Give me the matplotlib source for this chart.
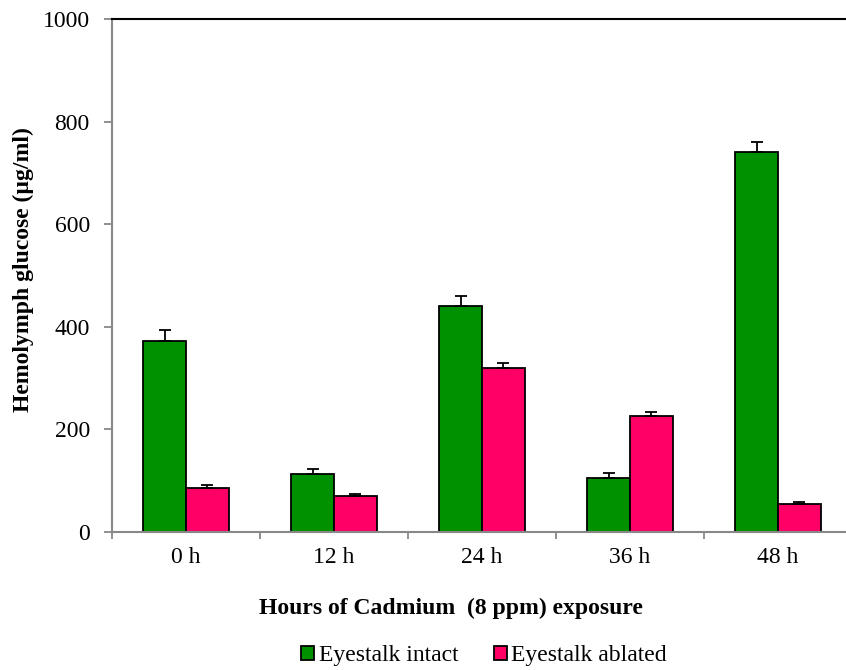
import matplotlib
matplotlib.use("Agg")
import matplotlib.pyplot as plt
import numpy as np
from matplotlib.patches import Patch

categories = ["0 h", "12 h", "24 h", "36 h", "48 h"]
intact = [373, 113, 441, 106, 741]
intact_err = [20, 10, 20, 9, 19]
ablated = [85, 71, 319, 226, 55]
ablated_err = [6, 4, 10, 8, 4]
yticks = [0, 200, 400, 600, 800, 1000]

plt.rcParams['font.family'] = ['Liberation Serif', 'DejaVu Serif']

fig = plt.figure(figsize=(8.46, 6.70), dpi=100)
ax = fig.add_axes([112/846, (670-532)/670, (852-112)/846, (532-19)/670])

green = "#009100"
pink = "#FF0066"
x = np.arange(len(categories))
w = 0.288
ax.bar(x - w/2, intact, w, color=green, edgecolor="black", linewidth=1.3, zorder=2)
ax.bar(x + w/2, ablated, w, color=pink, edgecolor="black", linewidth=1.3, zorder=2)
ax.errorbar(x - w/2, intact, yerr=[np.zeros(len(intact)), intact_err], fmt="none",
            ecolor="black", elinewidth=1.3, capsize=4.5, capthick=1.3, zorder=3)
ax.errorbar(x + w/2, ablated, yerr=[np.zeros(len(ablated)), ablated_err], fmt="none",
            ecolor="black", elinewidth=1.3, capsize=4.5, capthick=1.3, zorder=3)

ax.set_xlim(-0.5, len(categories) - 0.5)
ax.set_ylim(0, 1000)
ax.set_yticks(yticks)
ax.set_yticklabels([str(v) for v in yticks], fontsize=17)
ax.set_xticks(np.arange(-0.5, len(categories), 1.0))
ax.set_xticklabels([])
ax.set_xticks(x, minor=True)
ax.set_xticklabels(categories, minor=True, fontsize=17)
ax.tick_params(axis="x", which="minor", length=0, pad=11)
ax.tick_params(axis="x", which="major", length=5, color="#888888", width=1.3)
ax.tick_params(axis="y", length=6, color="#888888", width=1.3, pad=10)

for s in ["left", "bottom"]:
    ax.spines[s].set_color("#888888")
    ax.spines[s].set_linewidth(1.5)
ax.spines["top"].set_color("black")
ax.spines["top"].set_linewidth(1.5)
ax.spines["right"].set_visible(False)

fig.text(23.5/846, 1 - 270/670, "Hemolymph glucose (µg/ml)", rotation=90,
         fontsize=17, fontweight="bold", ha="center", va="center")
fig.text(450.5/846, 1 - 614/670, "Hours of Cadmium  (8 ppm) exposure",
         fontsize=17, fontweight="bold", ha="center", va="baseline")

handles = [Patch(facecolor=green, edgecolor="black", linewidth=1.3),
           Patch(facecolor=pink, edgecolor="black", linewidth=1.3)]
fig.legend(handles, ["Eyestalk intact", "Eyestalk ablated"], loc="center",
           bbox_to_anchor=(484/846, 1 - 656/670), ncol=2, frameon=False,
           prop={"family": ["Liberation Serif"], "size": 17},
           handlelength=0.55, handleheight=0.55, handletextpad=0.2,
           columnspacing=1.5, borderpad=0, borderaxespad=0)

fig.savefig("out.png", dpi=100)
